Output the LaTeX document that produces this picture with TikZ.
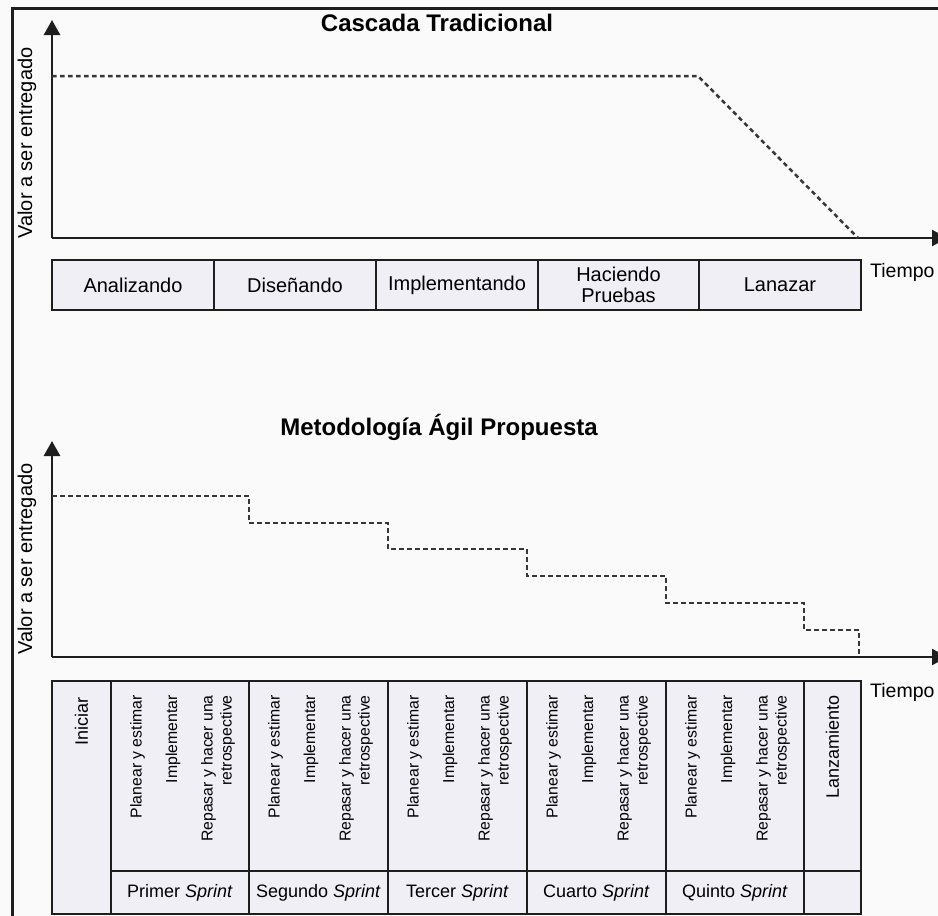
\documentclass[tikz,border=0pt]{standalone}
\usepackage{fontspec}
\setmainfont{Liberation Sans}
\usetikzlibrary{arrows.meta}
\definecolor{bg}{RGB}{250,250,250}
\definecolor{boxfill}{RGB}{239,239,245}
\definecolor{ink}{RGB}{30,30,30}
\definecolor{dashc}{RGB}{55,55,55}
\begin{document}
\begin{tikzpicture}[x=1pt,y=-1pt,
  axis/.style={draw=ink,line width=2.5pt,-{Triangle[width=16pt,length=15pt]}},
  valline/.style={draw=dashc,line width=2.5pt,dash pattern=on 4.5pt off 3.5pt},
  cellbox/.style={draw=ink,line width=2pt,fill=boxfill,inner sep=0pt,outer sep=0pt,
    font=\fontsize{20}{21}\selectfont,align=center},
  vtext/.style={rotate=90,anchor=east,inner sep=0pt,font=\fontsize{15.8}{19}\selectfont,align=right},
  vbig/.style={rotate=90,anchor=east,inner sep=0pt,font=\fontsize{18}{21}\selectfont},
  ylabel/.style={rotate=90,anchor=base,inner sep=0pt,font=\fontsize{20}{24}\selectfont},
  tlabel/.style={anchor=base west,inner sep=0pt,font=\fontsize{19.5}{24}\selectfont},
  title/.style={anchor=base,inner sep=0pt,font=\bfseries\fontsize{24}{28}\selectfont},
  sprintlbl/.style={inner sep=0pt,font=\fontsize{18}{20}\selectfont}
]
\useasboundingbox (0,0) rectangle (938,916);
\clip (0,0) rectangle (938,916);
\fill[bg] (0,0) rectangle (938,916);

% frame
\draw[ink,line width=3pt] (940,8) -- (12,8) -- (12,920);

% ---------- top chart ----------
\node[title] (t1) at (437,31.5) {Cascada Tradicional};
\coordinate (o1) at (52,238);
\coordinate (y1) at (52,20);
\coordinate (x1) at (947,238);
\draw[axis] (o1) -- (y1);
\draw[axis] (o1) -- (x1);
\node[ylabel] (v1) at (32,143) {Valor a ser entregado};
\node[tlabel] (tp1) at (870,277) {Tiempo};
\draw[valline] (52,76) -- (698,76) -- (858,238);

\node[cellbox,minimum width=162pt,minimum height=50pt] (c1) at (133,285) {Analizando};
\node[cellbox,minimum width=162pt,minimum height=50pt] (c2) at (295,285) {Diseñando};
\node[cellbox,minimum width=162pt,minimum height=50pt] (c3) at (457,285) {Implementando};
\node[cellbox,minimum width=162pt,minimum height=50pt] (c4) at (618.5,285) {Haciendo\\Pruebas};
\node[cellbox,minimum width=162pt,minimum height=50pt] (c5) at (780,285) {Lanazar};

% ---------- bottom chart ----------
\node[title] (t2) at (439,435) {Metodología Ágil Propuesta};
\coordinate (o2) at (52,657);
\coordinate (y2) at (52,441);
\coordinate (x2) at (947,657);
\draw[axis] (o2) -- (y2);
\draw[axis] (o2) -- (x2);
\node[ylabel] (v2) at (32,559) {Valor a ser entregado};
\node[tlabel] (tp2) at (870,697) {Tiempo};
\draw[valline] (52,496) -- (249,496) -- (249,523) -- (388,523) -- (388,549)
  -- (527,549) -- (527,576) -- (666,576) -- (666,603) -- (804,603) -- (804,630)
  -- (859,630) -- (859,657);

% table
\node[cellbox,minimum width=59pt,minimum height=233pt] (ini) at (81.5,797.5) {};
\node[vbig] (tini) at (81.5,697) {Iniciar};
\foreach \L/\R/\nm/\n in {111/249/Primer/1,249/388/Segundo/2,388/527/Tercer/3,527/666/Cuarto/4,666/804/Quinto/5}{
  \node[cellbox,minimum width={\R-\L},minimum height=190pt] (up\n) at ({(\L+\R)/2},776) {};
  \node[cellbox,minimum width={\R-\L},minimum height=43pt] (lo\n) at ({(\L+\R)/2},892.5) {};
  \node[vtext] (pl\n) at ({\L+26.5},695) {Planear y estimar};
  \node[vtext] (im\n) at ({\L+62},695) {Implementar};
  \node[vtext] (re\n) at ({\L+107},695) {Repasar y hacer una\\retrospective};
  \node[sprintlbl] (sl\n) at (lo\n) {\nm{} \textit{Sprint}};
}
\node[cellbox,minimum width=57pt,minimum height=190pt] (lzu) at (832.5,776) {};
\node[cellbox,minimum width=57pt,minimum height=43pt] (lzl) at (832.5,892.5) {};
\node[vbig] (tlz) at (832.5,695) {Lanzamiento};
\end{tikzpicture}
\end{document}
